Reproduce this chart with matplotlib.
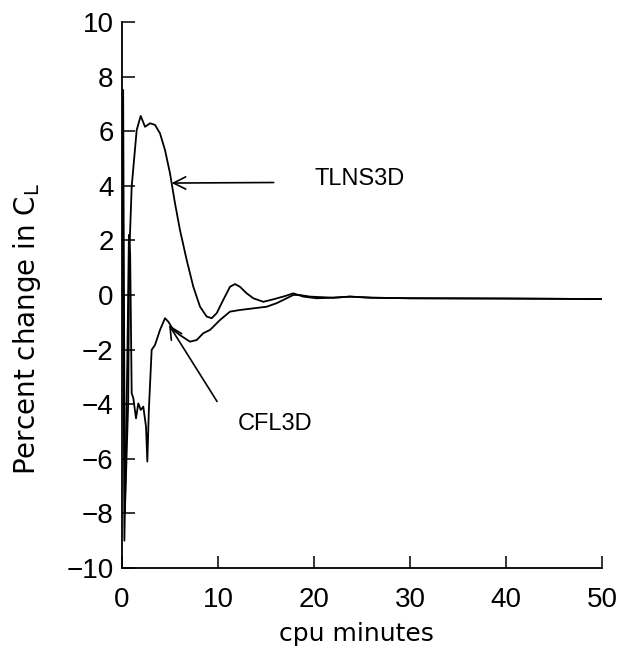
import matplotlib
matplotlib.use("Agg")
from matplotlib import pyplot as plt

# curva TLNS3D (minutos cpu, % cambio en CL)
tlns_x = [0.12, 0.3, 0.65, 0.75, 1.01, 1.53, 1.95, 2.40, 2.92, 3.44, 3.96,
          4.48, 5.0, 5.52, 6.04, 6.74, 7.43, 8.13, 8.82, 9.34, 9.86, 10.55,
          11.25, 11.77, 12.29, 12.99, 13.68, 14.72, 15.76, 16.98, 17.84, 18.89,
          20.28, 22.0, 23.75, 26.0, 30.0, 40.0, 50.0]
tlns_y = [7.5, -8.0, -3.9, 1.4, 3.97, 6.04, 6.56, 6.16, 6.29, 6.23, 5.92,
          5.31, 4.46, 3.36, 2.38, 1.28, 0.30, -0.43, -0.79, -0.85, -0.67, -0.18,
          0.30, 0.40, 0.30, 0.06, -0.12, -0.25, -0.16, -0.04, 0.06, -0.06,
          -0.12, -0.1, -0.06, -0.1, -0.12, -0.13, -0.15]

# curva CFL3D
cfl_x = [0.05, 0.25, 0.55, 0.72, 0.85, 1.01, 1.18, 1.46, 1.70, 1.95, 2.22,
         2.5, 2.64, 2.8, 3.09, 3.44, 3.96, 4.48, 4.83, 5.35, 6.04, 7.08, 7.78,
         8.47, 9.17, 10.2, 11.25, 12.29, 13.68, 15.07, 16.11, 17.16, 17.84,
         18.5, 19.6, 22.0, 23.75, 26.0, 30.0, 40.0, 50.0]
cfl_y = [7.3, -9.0, -2.5, 2.2, 1.5, -3.6, -3.78, -4.52, -3.97, -4.21, -4.09,
         -4.82, -6.1, -4.2, -2.01, -1.83, -1.28, -0.85, -0.98, -1.28, -1.47,
         -1.71, -1.65, -1.40, -1.28, -0.92, -0.61, -0.55, -0.49, -0.43, -0.3,
         -0.12, 0.0, 0.0, -0.06, -0.1, -0.06, -0.1, -0.12, -0.13, -0.15]

xticks = [0, 10, 20, 30, 40, 50]
yticks = [-10, -8, -6, -4, -2, 0, 2, 4, 6, 8, 10]

plt.rcParams['font.family'] = ['Liberation Sans', 'DejaVu Sans']

fig = plt.figure(figsize=(6.24, 6.58), dpi=100)
ax = fig.add_axes([0.1955, 0.1368, 0.7692, 0.8298])

ax.plot(tlns_x, tlns_y, color='black', lw=1.3)
ax.plot(cfl_x, cfl_y, color='black', lw=1.3)

ax.set_xlim(0, 50)
ax.set_ylim(-10, 10)
ax.set_xticks(xticks)
ax.set_yticks(yticks)
ax.set_yticklabels([str(v).replace('-', '\u2212') for v in yticks])

for s in ['top', 'right']:
    ax.spines[s].set_visible(False)
for s in ['left', 'bottom']:
    ax.spines[s].set_linewidth(1.3)
ax.tick_params(direction='in', length=9, width=1.1, labelsize=20)
ax.tick_params(axis='x', pad=14)
ax.tick_params(axis='y', pad=6)

ax.set_xlabel('cpu minutes', fontsize=18, family='DejaVu Sans')
ax.xaxis.set_label_coords(0.488, -0.099)
ax.set_ylabel('Percent change in C$_\\mathregular{L}$', fontsize=20,
              family='DejaVu Sans')
ax.yaxis.set_label_coords(-0.165, 0.438)

ax.annotate('', xy=(5.17, 4.1), xytext=(15.8, 4.12),
            arrowprops=dict(arrowstyle='->', color='black', lw=1.2,
                            shrinkA=0, shrinkB=0, mutation_scale=22))
ax.text(20.1, 4.25, 'TLNS3D', fontsize=17, va='center', ha='left')

ax.annotate('', xy=(4.9, -1.1), xytext=(9.9, -3.9),
            arrowprops=dict(arrowstyle='->', color='black', lw=1.2,
                            shrinkA=0, shrinkB=0, mutation_scale=22))
ax.text(12.1, -4.73, 'CFL3D', fontsize=17, va='center', ha='left')

fig.savefig('out.png', dpi=100)
